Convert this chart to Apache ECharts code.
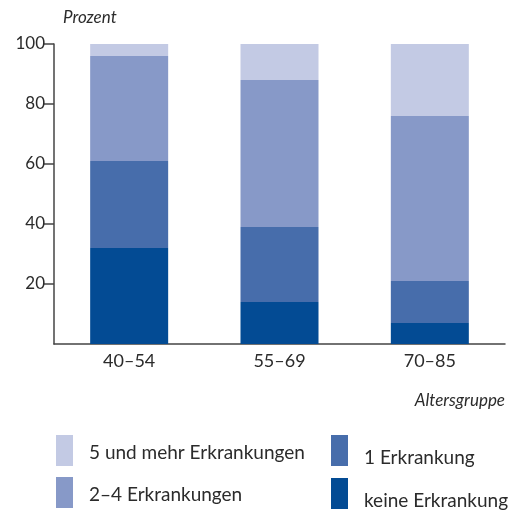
<!DOCTYPE html>
<html>
<head>
<meta charset="utf-8">
<script src="https://cdn.jsdelivr.net/npm/echarts@6/dist/echarts.min.js"></script>
<style>
  html, body { margin: 0; padding: 0; background: #fff; }
  #chart { width: 509px; height: 510px; }
</style>
</head>
<body>
<div id="chart"></div>
<script>
var categories = ['40–54', '55–69', '70–85']
var seriesNames = ['keine Erkrankung', '1 Erkrankung', '2–4 Erkrankungen', '5 und mehr Erkrankungen']
var keine = [32, 14, 7]
var eine = [29, 25, 14]
var zweiBisVier = [35, 49, 55]
var fuenfUndMehr = [4, 12, 24]
var yTicks = [20, 40, 60, 80, 100]

var colors = ['#034b94', '#476dab', '#8799c8', '#c3cae4']
var font = 'Lato'
var textColor = '#2b2b2b'

var myChart = echarts.init(document.getElementById('chart'))

function bar(name, data, color) {
    return {
        name: name,
        type: 'bar',
        stack: 'total',
        barWidth: 78,
        data: data,
        itemStyle: { color: color },
        emphasis: { disabled: true }
    }
}

// legend text sits lower than the swatch centre: a tall invisible spacer
// token makes the line taller, the name is pinned to its bottom
function legend(left, names, lineH) {
    return {
        orient: 'vertical',
        left: left, top: 435,
        height: 120,
        padding: 0,
        itemWidth: 17, itemHeight: 31, itemGap: 11,
        icon: 'rect',
        data: names,
        formatter: function (name) { return '{s| }{t|' + name + '}' },
        textStyle: {
            fontFamily: font, fontSize: 19, color: textColor, padding: [0, 0, 0, 10],
            rich: {
                s: { width: 1, height: lineH, fontSize: 19 },
                t: { fontFamily: font, fontSize: 19, lineHeight: 23, verticalAlign: 'bottom', color: textColor }
            }
        }
    }
}

var option = {
    animation: false,
    grid: { left: 54, right: 4, top: 44, bottom: 166 },
    legend: [
        legend(56, ['5 und mehr Erkrankungen', '2–4 Erkrankungen'], 24),
        legend(331, ['1 Erkrankung', 'keine Erkrankung'], 33)
    ],
    xAxis: {
        type: 'category',
        data: categories,
        name: 'Altersgruppe',
        nameLocation: 'end',
        nameGap: 0,
        nameTextStyle: {
            fontFamily: font, fontSize: 17, fontStyle: 'italic', color: textColor,
            align: 'right', verticalAlign: 'top', padding: [48, 0, 0, 0]
        },
        axisLine: { lineStyle: { color: '#444', width: 1.5 } },
        axisTick: { length: 8, lineStyle: { color: '#444', width: 1.5 } },
        axisLabel: { fontFamily: font, fontSize: 18, color: textColor, margin: 8 }
    },
    yAxis: {
        type: 'value',
        min: 0, max: 100, interval: 20,
        name: 'Prozent',
        nameLocation: 'end',
        nameGap: 18,
        nameTextStyle: {
            fontFamily: font, fontSize: 17, fontStyle: 'italic', color: textColor,
            align: 'left', padding: [0, 0, 0, 9]
        },
        splitLine: { show: false },
        axisLine: { show: true, lineStyle: { color: '#444', width: 1.5 } },
        axisTick: { show: true, length: 10, customValues: yTicks, lineStyle: { color: '#444', width: 1.5 } },
        axisLabel: { fontFamily: font, fontSize: 17, color: textColor, margin: 9, customValues: yTicks }
    },
    series: [
        bar(seriesNames[0], keine, colors[0]),
        bar(seriesNames[1], eine, colors[1]),
        bar(seriesNames[2], zweiBisVier, colors[2]),
        bar(seriesNames[3], fuenfUndMehr, colors[3])
    ]
}

myChart.setOption(option)
</script>
</body>
</html>
